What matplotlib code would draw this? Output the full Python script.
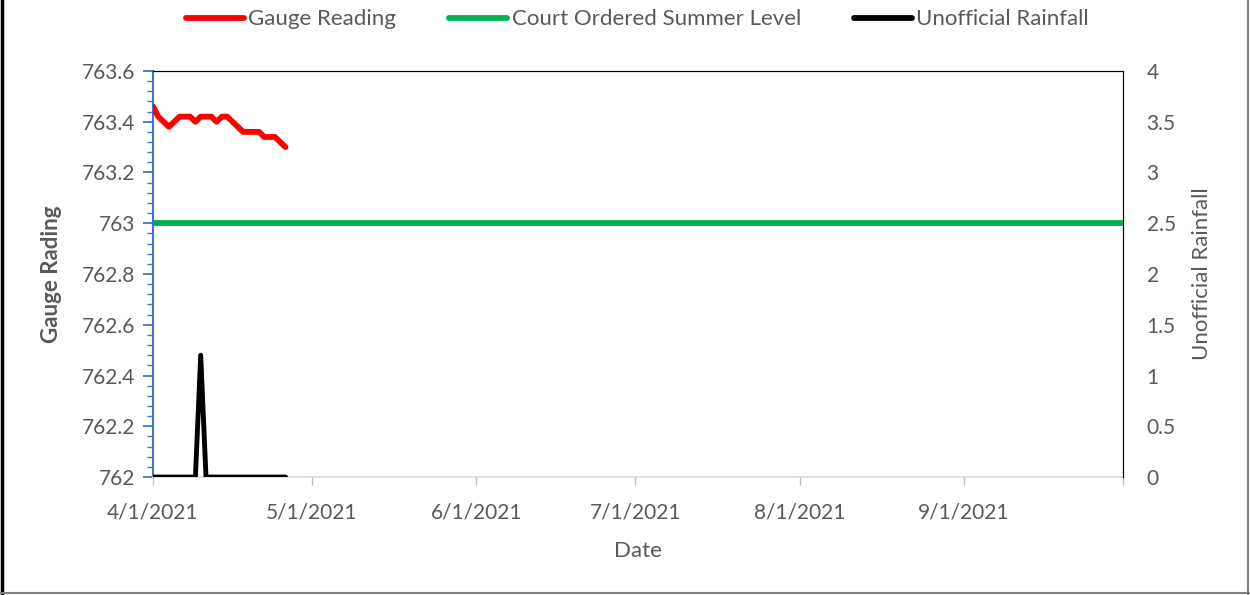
import datetime as dt

import matplotlib
matplotlib.use('Agg')
import matplotlib.pyplot as plt
import matplotlib.dates as mdates
from matplotlib.lines import Line2D
from matplotlib.ticker import MultipleLocator, FuncFormatter
import pandas as pd

plt.rcParams['font.family'] = ['Lato', 'DejaVu Sans']

# data
start_date = '2021-04-01'
gauge_reading = [763.46, 763.42, 763.40, 763.38, 763.40, 763.42, 763.42,
                 763.42, 763.40, 763.42, 763.42, 763.42, 763.40, 763.42,
                 763.42, 763.40, 763.38, 763.36, 763.36, 763.36, 763.36,
                 763.34, 763.34, 763.34, 763.32, 763.30]
rainfall = [0, 0, 0, 0, 0, 0, 0, 0, 0, 1.2, 0, 0, 0, 0, 0, 0, 0, 0, 0, 0,
            0, 0, 0, 0, 0, 0]
court_level_dates = ['2021-04-01', '2021-10-01']
court_level = [763.0, 763.0]
month_ticks = ['2021-04-01', '2021-05-01', '2021-06-01', '2021-07-01',
               '2021-08-01', '2021-09-01', '2021-10-01']

days = pd.date_range(start_date, periods=len(gauge_reading), freq='D')
level_days = pd.to_datetime(court_level_dates)

txt = '#595959'
blue = '#4472C4'
fs = 15

fig = plt.figure(figsize=(12.5, 5.95), dpi=100)
ax = fig.add_axes([0.1224, 0.1983, 0.776, 0.6824])
ax2 = ax.twinx()

ax.plot(level_days, court_level, color='#00B050', lw=4.2,
        solid_capstyle='round', zorder=3)
ax.plot(days, gauge_reading, color='#FF0000', lw=4.2,
        solid_capstyle='round', solid_joinstyle='round', zorder=4)
ax2.plot(days, rainfall, color='black', lw=3.5,
         solid_capstyle='round', solid_joinstyle='round', zorder=4)

ax.set_xlim(pd.Timestamp('2021-04-01'), pd.Timestamp('2021-10-01'))
ax.set_ylim(762, 763.6)
ax2.set_ylim(0, 4)

ax.yaxis.set_major_locator(MultipleLocator(0.2))
ax.yaxis.set_minor_locator(MultipleLocator(0.04))
ax.yaxis.set_major_formatter(FuncFormatter(lambda v, p: f'{v:g}'))
ax2.yaxis.set_major_locator(MultipleLocator(0.5))
ax2.yaxis.set_major_formatter(FuncFormatter(lambda v, p: f'{v:g}'))

ticks = pd.to_datetime(month_ticks)
ax.set_xticks(ticks)
ax.set_xticklabels([f'{d.month}/{d.day}/{d.year}' for d in ticks[:-1]] + [''])

ax.tick_params(axis='y', which='major', colors=blue, length=7, width=1.3,
               labelcolor=txt, labelsize=fs, pad=6)
ax.tick_params(axis='y', which='minor', colors=blue, length=4, width=1.0)
ax.tick_params(axis='x', colors='#BFBFBF', length=6, width=1.0,
               labelcolor=txt, labelsize=fs, pad=12)
ax2.tick_params(axis='y', length=0, labelcolor=txt, labelsize=fs, pad=17)

ax.spines['left'].set_color(blue)
ax.spines['left'].set_linewidth(1.5)
ax.spines['bottom'].set_color('#D9D9D9')
ax.spines['bottom'].set_linewidth(1.2)
ax.spines['top'].set_color('black')
ax2.spines['right'].set_color('black')
ax2.spines['left'].set_visible(False)
ax2.spines['bottom'].set_visible(False)

ax.set_xlabel('Date', color=txt, fontsize=fs + 1, labelpad=14)
ax.set_ylabel('Gauge Rading', color=txt, fontsize=fs + 1,
              fontweight='bold', labelpad=14)
ax2.set_ylabel('Unofficial Rainfall', color=txt, fontsize=fs + 1,
               labelpad=12)

handles = [Line2D([], [], color='#FF0000', lw=4.2, solid_capstyle='round'),
           Line2D([], [], color='#00B050', lw=4.2, solid_capstyle='round'),
           Line2D([], [], color='black', lw=4.2, solid_capstyle='round')]
labels = ['Gauge Reading', 'Court Ordered Summer Level', 'Unofficial Rainfall']
leg = fig.legend(handles, labels, loc='upper center', ncol=3,
                 bbox_to_anchor=(0.51, 1.018), frameon=False, fontsize=fs + 1,
                 handlelength=2.6, handletextpad=0.2, columnspacing=2.4)
for t in leg.get_texts():
    t.set_color(txt)

# outer chart border (image is cropped at top)
fig.add_artist(Line2D([0.0015, 0.0015], [0, 1], color='black', lw=2.5,
                      transform=fig.transFigure))
fig.add_artist(Line2D([0.9985, 0.9985], [0, 1], color='#808080', lw=1.5,
                      transform=fig.transFigure))
fig.add_artist(Line2D([0, 1], [0.003, 0.003], color='#808080', lw=1.5,
                      transform=fig.transFigure))

fig.savefig('out.png', dpi=100)
